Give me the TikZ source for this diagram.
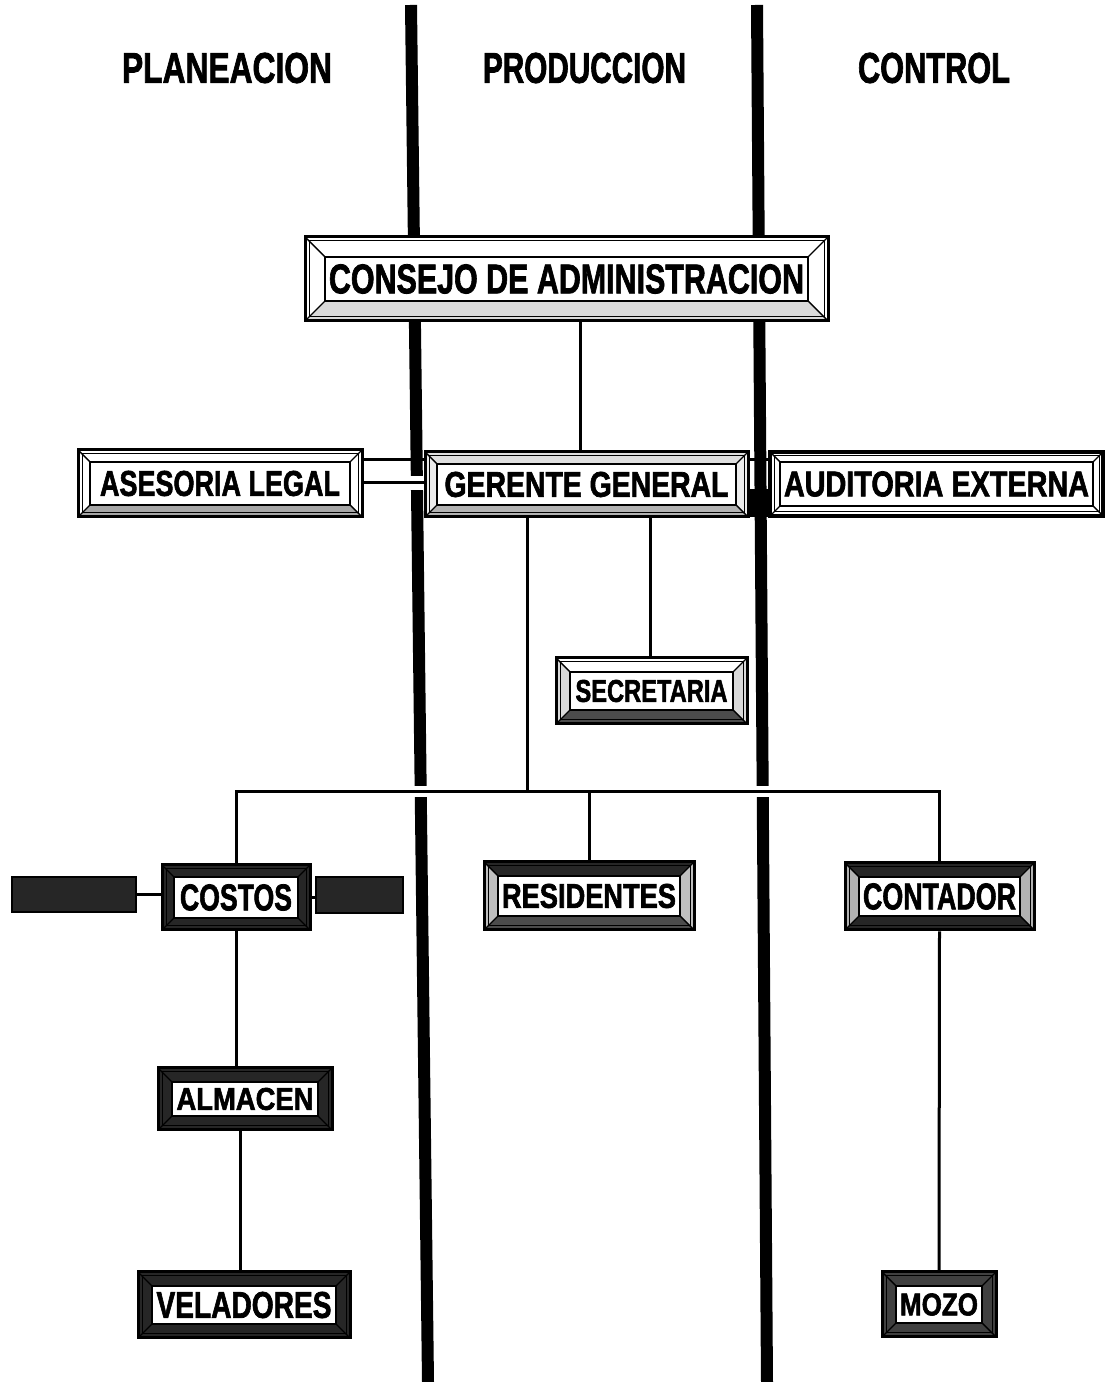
\documentclass[tikz,border=0pt]{standalone}
\usepackage{fontspec}
\setmainfont{Liberation Sans}[BoldFeatures={FakeBold=2}]
\usepackage{graphicx}
\usetikzlibrary{calc}
\pgfdeclarelayer{bg}
\pgfsetlayers{bg,main}

% condensed heavy caption fitted to a given width and cap height
\newcommand\fitlabel[3]{\resizebox{#1}{#2}{\bfseries #3}}

\tikzset{
  bevel inset/.store in=\bvi,
  bevel top/.store in=\bvtop,
  bevel side/.store in=\bvside,
  bevel bottom/.store in=\bvbot,
  bevel inset=12pt, bevel top=white, bevel side=white, bevel bottom=gray,
  orgbox/.style={draw=black, line width=3pt, fill=white, inner sep=0pt,
    path picture={
      \path (path picture bounding box.north west) coordinate (o1)
            (path picture bounding box.north east) coordinate (o2)
            (path picture bounding box.south east) coordinate (o3)
            (path picture bounding box.south west) coordinate (o4);
      \path ($(o1)+(\bvi,-\bvi)$) coordinate (i1)
            ($(o2)+(-\bvi,-\bvi)$) coordinate (i2)
            ($(o3)+(-\bvi,\bvi)$) coordinate (i3)
            ($(o4)+(\bvi,\bvi)$) coordinate (i4);
      \fill[fill=\bvtop] (o1) -- (o2) -- (i2) -- (i1) -- cycle;
      \fill[fill=\bvbot] (o4) -- (o3) -- (i3) -- (i4) -- cycle;
      \fill[fill=\bvside] (o1) -- (i1) -- (i4) -- (o4) -- cycle
                          (o2) -- (i2) -- (i3) -- (o3) -- cycle;
      \draw[line width=1pt] ($(o1)+(4pt,-4pt)$) rectangle ($(o3)+(-4pt,4pt)$);
      \draw[line width=1.4pt] (o1) -- (i1) (o2) -- (i2) (o3) -- (i3) (o4) -- (i4);
      \draw[line width=2.4pt, fill=white] (i1) rectangle (i3);
    }},
  darkframe/.style={orgbox, bevel top=black!85, bevel side=black!85, bevel bottom=black!85},
  stub/.style={draw=black, line width=1.5pt, fill=black!85, inner sep=0pt},
  head/.style={inner sep=0pt},
  link/.style={line width=3pt},
  divider/.style={line width=12pt},
}

\begin{document}
\begin{tikzpicture}[x=1pt,y=1pt]
\useasboundingbox (0,0) rectangle (1110,1382);

% column headings
\node[head] (hplan) at (227,1314) {\fitlabel{210pt}{30pt}{PLANEACION}};
\node[head] (hprod) at (584.5,1314) {\fitlabel{203pt}{30pt}{PRODUCCION}};
\node[head] (hctrl) at (934,1314) {\fitlabel{152pt}{30pt}{CONTROL}};

% board and top management
\node[orgbox, bevel inset=20pt, bevel bottom=black!15, minimum width=523pt, minimum height=84pt]
  (consejo) at (566.5,1103) {\fitlabel{475pt}{29pt}{CONSEJO DE ADMINISTRACION}};
\node[orgbox, bevel bottom=gray!70, minimum width=284pt, minimum height=67pt]
  (asesoria) at (220,898.5) {\fitlabel{240pt}{25pt}{ASESORIA LEGAL}};
\node[orgbox, bevel top=gray!25, bevel side=gray!15, bevel bottom=gray!60, minimum width=323pt, minimum height=65pt]
  (gerente) at (586.5,897.5) {\fitlabel{284pt}{25pt}{GERENTE GENERAL}};
\node[orgbox, line width=4pt, bevel inset=10pt, bevel bottom=white, minimum width=333pt, minimum height=64pt]
  (auditoria) at (936.5,898) {\fitlabel{305pt}{25pt}{AUDITORIA EXTERNA}};
\node[orgbox, bevel inset=14pt, bevel side=gray!30, bevel bottom=black!70, minimum width=191pt, minimum height=66pt]
  (secretaria) at (651.5,691) {\fitlabel{152pt}{22pt}{SECRETARIA}};

% departments
\node[darkframe, minimum width=148pt, minimum height=65pt]
  (costos) at (236,484.5) {\fitlabel{112pt}{26pt}{COSTOS}};
\node[stub, minimum width=124pt, minimum height=35pt] (auxl) at (74,487.5) {};
\node[stub, minimum width=87pt, minimum height=36pt] (auxr) at (359.5,487) {};
\node[darkframe, bevel inset=14pt, bevel side=gray!50, bevel bottom=black!70, minimum width=210pt, minimum height=68pt]
  (residentes) at (589,486) {\fitlabel{174pt}{24pt}{RESIDENTES}};
\node[darkframe, bevel inset=14pt, bevel side=gray!60, minimum width=189pt, minimum height=67pt]
  (contador) at (939.5,485.5) {\fitlabel{153pt}{26pt}{CONTADOR}};
\node[darkframe, bevel inset=14pt, minimum width=174pt, minimum height=62pt]
  (almacen) at (245,283) {\fitlabel{137pt}{22pt}{ALMACEN}};
\node[darkframe, bevel inset=14pt, minimum width=212pt, minimum height=66pt]
  (veladores) at (244,77) {\fitlabel{175pt}{26pt}{VELADORES}};
\node[darkframe, bevel inset=14pt, bevel top=black!75, bevel side=black!75, bevel bottom=black!75, minimum width=114pt, minimum height=65pt]
  (mozo) at (939,77.5) {\fitlabel{78pt}{22pt}{MOZO}};

\begin{pgfonlayer}{bg}
  \fill[white] (0,0) rectangle (1110,1382);
  % heavy column dividers
  \coordinate (ltop) at (411,1377);
  \coordinate (lbot) at (428,0);
  \coordinate (rtop) at (757,1377);
  \coordinate (rbot) at (767,0);
  \draw[divider] (ltop) -- (lbot);
  \draw[divider] (rtop) -- (rbot);
  \fill[white] (409,892) rectangle (427,906);
  \fill[white] (412,585) rectangle (430,596);
  \fill[white] (754,585) rectangle (772,596);
  \fill[black] (748,865) rectangle (771,893);
  % reporting lines
  \coordinate (upperrail) at (0,922);
  \coordinate (lowerrail) at (0,899);
  \coordinate (bus) at (527,590);
  \draw[link] ([xshift=13.5pt]consejo.south) -- ([xshift=13.5pt]consejo.south |- gerente.north);
  \draw[link] (asesoria.east |- upperrail) -- (auditoria.west |- upperrail);
  \draw[link] (asesoria.east |- lowerrail) -- (gerente.west |- lowerrail);
  \draw[link] ([xshift=63.5pt]gerente.south) -- ([xshift=63.5pt]gerente.south |- secretaria.north);
  \draw[link] ([xshift=-59.5pt]gerente.south) -- ([xshift=-59.5pt]gerente.south |- bus);
  \draw[link] (costos.north) -- (costos.north |- bus) -- (contador.north |- bus) -- (contador.north);
  \draw[link] (residentes.north) -- (residentes.north |- bus);
  \draw[link] (auxl.east) -- (auxl.east -| costos.west);
  \draw[link] (costos.east) -- (costos.east -| auxr.west);
  \draw[link] (costos.south) -- (costos.south |- almacen.north);
  \draw[link] ([xshift=-5pt]almacen.south) -- ([xshift=-5pt]almacen.south |- veladores.north);
  \draw[link] (contador.south) -- (mozo.north);
\end{pgfonlayer}
\end{tikzpicture}
\end{document}
